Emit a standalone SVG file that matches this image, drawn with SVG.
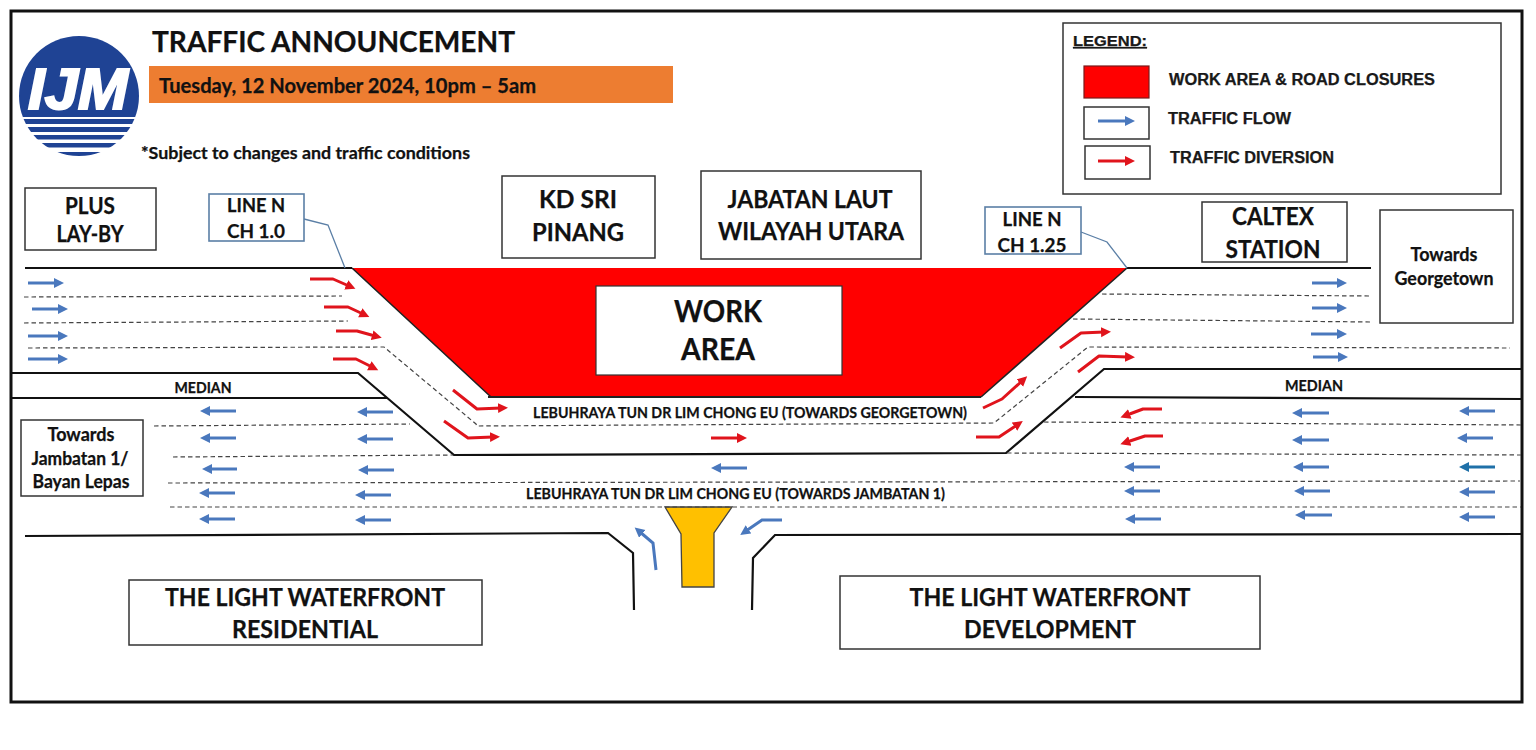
<svg xmlns="http://www.w3.org/2000/svg" width="1536" height="750" viewBox="0 0 1536 750">
<style>
text{font-family:"Lato","Carlito","Liberation Sans",sans-serif;font-weight:700;fill:#111;text-anchor:middle;stroke:#111;stroke-width:.25}
.s{text-anchor:start}
.leg{font-family:"Liberation Sans",Arial,sans-serif;fill:#1a1a1a;text-anchor:start}
.box{fill:#fff;stroke:#333;stroke-width:1.5}
.lbox{fill:#fff;stroke:#5b7fa6;stroke-width:1.6}
.road{fill:none;stroke:#111;stroke-width:2.2;stroke-linejoin:miter}
.dash{fill:none;stroke:#444;stroke-width:1.2;stroke-dasharray:4.5 3}
.b{fill:none;stroke:#4a78bd;stroke-width:3;marker-end:url(#hb)}
.t{fill:none;stroke:#1f70a8;stroke-width:3;marker-end:url(#ht)}
.r{fill:none;stroke:#e0141c;stroke-width:3;stroke-linejoin:round;marker-end:url(#hr)}
.lead{fill:none;stroke:#5b7fa6;stroke-width:1.3}
</style>
<defs>
<marker id="hb" markerUnits="userSpaceOnUse" markerWidth="12" markerHeight="11" refX="3" refY="5" orient="auto"><path d="M0 0L10 5L0 10Z" fill="#4a78bd"/></marker>
<marker id="ht" markerUnits="userSpaceOnUse" markerWidth="12" markerHeight="11" refX="3" refY="5" orient="auto"><path d="M0 0L10 5L0 10Z" fill="#1f70a8"/></marker>
<marker id="hr" markerUnits="userSpaceOnUse" markerWidth="12" markerHeight="11" refX="3" refY="5" orient="auto"><path d="M0 0L10 5L0 10Z" fill="#e0141c"/></marker>
<clipPath id="logoClip"><circle cx="79" cy="96" r="60"/></clipPath>
</defs>
<rect width="1536" height="750" fill="#fff"/>
<rect id="frame" x="11" y="11" width="1511" height="691" fill="none" stroke="#111" stroke-width="3"/>

<g id="work-area-shape"><path d="M352 268H1127L981 397H491Z" fill="#f00" stroke="none"/><path d="M352 268L491 397M1127 268L981 397" fill="none" stroke="#222" stroke-width="1.6"/><path d="M488 397H981" fill="none" stroke="#222" stroke-width="1.8"/></g>

<g id="island"><path d="M665 507H732L714 533V587H682L681 534Z" fill="#ffc000" stroke="#444" stroke-width="1.3"/></g>

<g id="connectors">
<g id="road-edges">
<path class="road" d="M25 268H352M1127 268L1371 268"/>
<path class="road" d="M11 373H358L454 455L1006 453L1104 369H1522"/>
<path class="road" d="M11 398H387M1075 397L1522 399"/>
<path class="road" d="M25 536L608 533L633 553L634 610"/>
<path class="road" d="M1522 534L775 535L753 558L752 610"/>
</g>
<g id="lane-lines">
<path class="dash" d="M24 297L342 296"/>
<path class="dash" d="M24 323L348 321"/>
<path class="dash" d="M28 348L384 347L476 424L477 426L994 423L1088 347L1510 348"/>
<path class="dash" d="M1102 294L1371 296"/>
<path class="dash" d="M1073 319L1371 322"/>
<path class="dash" d="M154 426L410 424"/>
<path class="dash" d="M1044 422L1522 425"/>
<path class="dash" d="M173 457L453 455"/>
<path class="dash" d="M1007 453L1521 455"/>
<path class="dash" d="M168 483L1520 481"/>
<path class="dash" d="M170 507L1521 507"/>
</g>
<g id="leaders">
<path class="lead" d="M304 219L328 225L345 268"/>
<path class="lead" d="M1081 232L1107 242L1127 268"/>
</g>
<g id="flow-arrows">
<path class="b" d="M28 283H57"/><path class="b" d="M32 309H61"/><path class="b" d="M28 336H61"/><path class="b" d="M28 359H61"/>
<path class="b" d="M236 411H207"/><path class="b" d="M393 412H364"/>
<path class="b" d="M236 438H207"/><path class="b" d="M393 439H364"/>
<path class="b" d="M237 469H209"/><path class="b" d="M394 470H365"/>
<path class="b" d="M235 493H206"/><path class="b" d="M391 495H362"/>
<path class="b" d="M235 519H206"/><path class="b" d="M391 520H362"/>
<path class="b" d="M747 468H718"/>
<path class="b" d="M1312 283H1340"/><path class="b" d="M1312 308H1340"/><path class="b" d="M1311 334H1340"/><path class="b" d="M1313 357H1341"/>
<path class="b" d="M1160 467H1131"/><path class="b" d="M1160 491H1131"/><path class="b" d="M1161 519H1132"/>
<path class="b" d="M1329 413H1299"/><path class="b" d="M1329 440H1299"/><path class="b" d="M1329 467H1300"/><path class="b" d="M1330 491H1301"/><path class="b" d="M1332 515H1302"/>
<path class="b" d="M1495 411H1466"/><path class="b" d="M1493 438H1464"/><path class="t" d="M1495 467H1466"/><path class="b" d="M1495 492H1466"/><path class="b" d="M1495 517H1466"/>
<path class="b" d="M656 570L653 543L640 532"/>
<path class="b" d="M782 520H762L746 531"/>
</g>
<g id="diversion-arrows">
<path class="r" d="M310 279H333L349 286"/>
<path class="r" d="M324 307H348L363 314"/>
<path class="r" d="M336 331H357L375 336"/>
<path class="r" d="M333 359H356L372 367"/>
<path class="r" d="M453 390L477 409L501 408"/>
<path class="r" d="M444 421L468 438L493 437"/>
<path class="r" d="M711 438H740"/>
<path class="r" d="M1060 348L1081 333L1104 332"/>
<path class="r" d="M1078 372L1099 356L1128 357"/>
<path class="r" d="M983 408L1002 399L1022 381"/>
<path class="r" d="M976 437H999L1017 425"/>
<path class="r" d="M1162 409H1143L1127 415"/>
<path class="r" d="M1163 436H1145L1127 442"/>
</g>
</g>

<g id="logo">
<g clip-path="url(#logoClip)" fill="#1f4394">
<rect x="15" y="30" width="130" height="87"/>
<rect x="15" y="119" width="130" height="5"/><rect x="15" y="127" width="130" height="5"/><rect x="15" y="135" width="130" height="4.5"/><rect x="15" y="143" width="130" height="4.5"/><rect x="15" y="152" width="130" height="4"/>
</g>
<text x="78" y="109" font-size="58" textLength="100" lengthAdjust="spacingAndGlyphs" style="font-family:'Liberation Sans',Arial,sans-serif;font-style:italic;font-weight:700;fill:#fff;stroke:#fff;stroke-width:2.2">IJM</text>
</g>

<g id="title"><text class="s" x="152" y="52" font-size="29" textLength="363" lengthAdjust="spacingAndGlyphs">TRAFFIC ANNOUNCEMENT</text></g>
<g id="date"><rect x="149" y="66" width="524" height="37" fill="#ed7d31"/><text class="s" x="159" y="93" font-size="20" textLength="377" lengthAdjust="spacingAndGlyphs">Tuesday, 12 November 2024, 10pm – 5am</text></g>
<g id="note"><text class="s" x="141" y="159" font-size="17" textLength="329" lengthAdjust="spacingAndGlyphs">*Subject to changes and traffic conditions</text></g>

<g id="plus-layby"><rect class="box" x="25" y="188" width="131" height="62"/><text x="90" y="214" font-size="22" textLength="50" lengthAdjust="spacingAndGlyphs">PLUS</text><text x="90" y="242" font-size="22" textLength="67" lengthAdjust="spacingAndGlyphs">LAY-BY</text></g>
<g id="line-n-10"><rect class="lbox" x="209" y="194" width="95" height="47"/><text x="256" y="212" font-size="19" textLength="58" lengthAdjust="spacingAndGlyphs">LINE N</text><text x="256" y="238" font-size="19" textLength="58" lengthAdjust="spacingAndGlyphs">CH 1.0</text></g>
<g id="kd-sri-pinang"><rect class="box" x="502" y="176" width="153" height="82"/><text x="578" y="208" font-size="24" textLength="78" lengthAdjust="spacingAndGlyphs">KD SRI</text><text x="578" y="241" font-size="24" textLength="92" lengthAdjust="spacingAndGlyphs">PINANG</text></g>
<g id="jabatan-laut"><rect class="box" x="701" y="171" width="220" height="88"/><text x="810" y="208" font-size="24" textLength="165" lengthAdjust="spacingAndGlyphs">JABATAN LAUT</text><text x="811" y="240" font-size="24" textLength="186" lengthAdjust="spacingAndGlyphs">WILAYAH UTARA</text></g>
<g id="work-area"><rect x="596" y="286" width="246" height="89" fill="#fff" stroke="#333" stroke-width="1.2"/><text x="718" y="322" font-size="31" textLength="88" lengthAdjust="spacingAndGlyphs">WORK</text><text x="718" y="360" font-size="31" textLength="74" lengthAdjust="spacingAndGlyphs">AREA</text></g>
<g id="line-n-125"><rect class="lbox" x="985" y="207" width="96" height="47"/><text x="1032" y="226" font-size="19" textLength="59" lengthAdjust="spacingAndGlyphs">LINE N</text><text x="1032" y="252" font-size="19" textLength="69" lengthAdjust="spacingAndGlyphs">CH 1.25</text></g>
<g id="caltex"><rect class="box" x="1202" y="202" width="145" height="60"/><text x="1273" y="225" font-size="25" textLength="82" lengthAdjust="spacingAndGlyphs">CALTEX</text><text x="1273" y="258" font-size="25" textLength="95" lengthAdjust="spacingAndGlyphs">STATION</text></g>
<g id="towards-georgetown"><rect class="box" x="1380" y="210" width="133" height="113"/><text x="1444" y="261" font-size="18" textLength="67" lengthAdjust="spacingAndGlyphs">Towards</text><text x="1444" y="285" font-size="18" textLength="99" lengthAdjust="spacingAndGlyphs">Georgetown</text></g>
<g id="towards-jambatan"><rect class="box" x="21" y="420" width="122" height="76"/><text x="81" y="441" font-size="18" textLength="67" lengthAdjust="spacingAndGlyphs">Towards</text><text x="80" y="465" font-size="18" textLength="97" lengthAdjust="spacingAndGlyphs">Jambatan 1/</text><text x="81" y="488" font-size="18" textLength="97" lengthAdjust="spacingAndGlyphs">Bayan Lepas</text></g>
<g id="median-left"><text x="203" y="393" font-size="15" textLength="57" lengthAdjust="spacingAndGlyphs">MEDIAN</text></g>
<g id="median-right"><text x="1314" y="391" font-size="15" textLength="58" lengthAdjust="spacingAndGlyphs">MEDIAN</text></g>
<g id="road-georgetown"><text class="s" x="533" y="418" font-size="15" textLength="434" lengthAdjust="spacingAndGlyphs">LEBUHRAYA TUN DR LIM CHONG EU (TOWARDS GEORGETOWN)</text></g>
<g id="road-jambatan"><text class="s" x="526" y="499" font-size="15" textLength="419" lengthAdjust="spacingAndGlyphs">LEBUHRAYA TUN DR LIM CHONG EU (TOWARDS JAMBATAN 1)</text></g>
<g id="light-residential"><rect class="box" x="129" y="580" width="353" height="65"/><text x="305" y="606" font-size="24" textLength="280" lengthAdjust="spacingAndGlyphs">THE LIGHT WATERFRONT</text><text x="305" y="638" font-size="24" textLength="146" lengthAdjust="spacingAndGlyphs">RESIDENTIAL</text></g>
<g id="light-development"><rect class="box" x="840" y="576" width="420" height="73"/><text x="1050" y="606" font-size="24" textLength="281" lengthAdjust="spacingAndGlyphs">THE LIGHT WATERFRONT</text><text x="1050" y="638" font-size="24" textLength="172" lengthAdjust="spacingAndGlyphs">DEVELOPMENT</text></g>

<g id="legend">
<rect class="box" x="1063" y="23" width="438" height="171"/>
<text class="leg" x="1073" y="46" font-size="15" text-decoration="underline" textLength="74" lengthAdjust="spacingAndGlyphs">LEGEND:</text>
<rect x="1084" y="66" width="65" height="32" fill="#f00" stroke="#7a1a1a" stroke-width="1.2"/>
<text class="leg" x="1169" y="85" font-size="16" textLength="266" lengthAdjust="spacingAndGlyphs">WORK AREA &amp; ROAD CLOSURES</text>
<rect class="box" x="1084" y="107" width="65" height="32"/>
<path class="b" d="M1098 121H1128"/>
<text class="leg" x="1168" y="124" font-size="16" textLength="123" lengthAdjust="spacingAndGlyphs">TRAFFIC FLOW</text>
<rect class="box" x="1085" y="146" width="65" height="33"/>
<path class="r" d="M1098 161H1128"/>
<text class="leg" x="1170" y="163" font-size="16" textLength="164" lengthAdjust="spacingAndGlyphs">TRAFFIC DIVERSION</text>
</g>
</svg>
